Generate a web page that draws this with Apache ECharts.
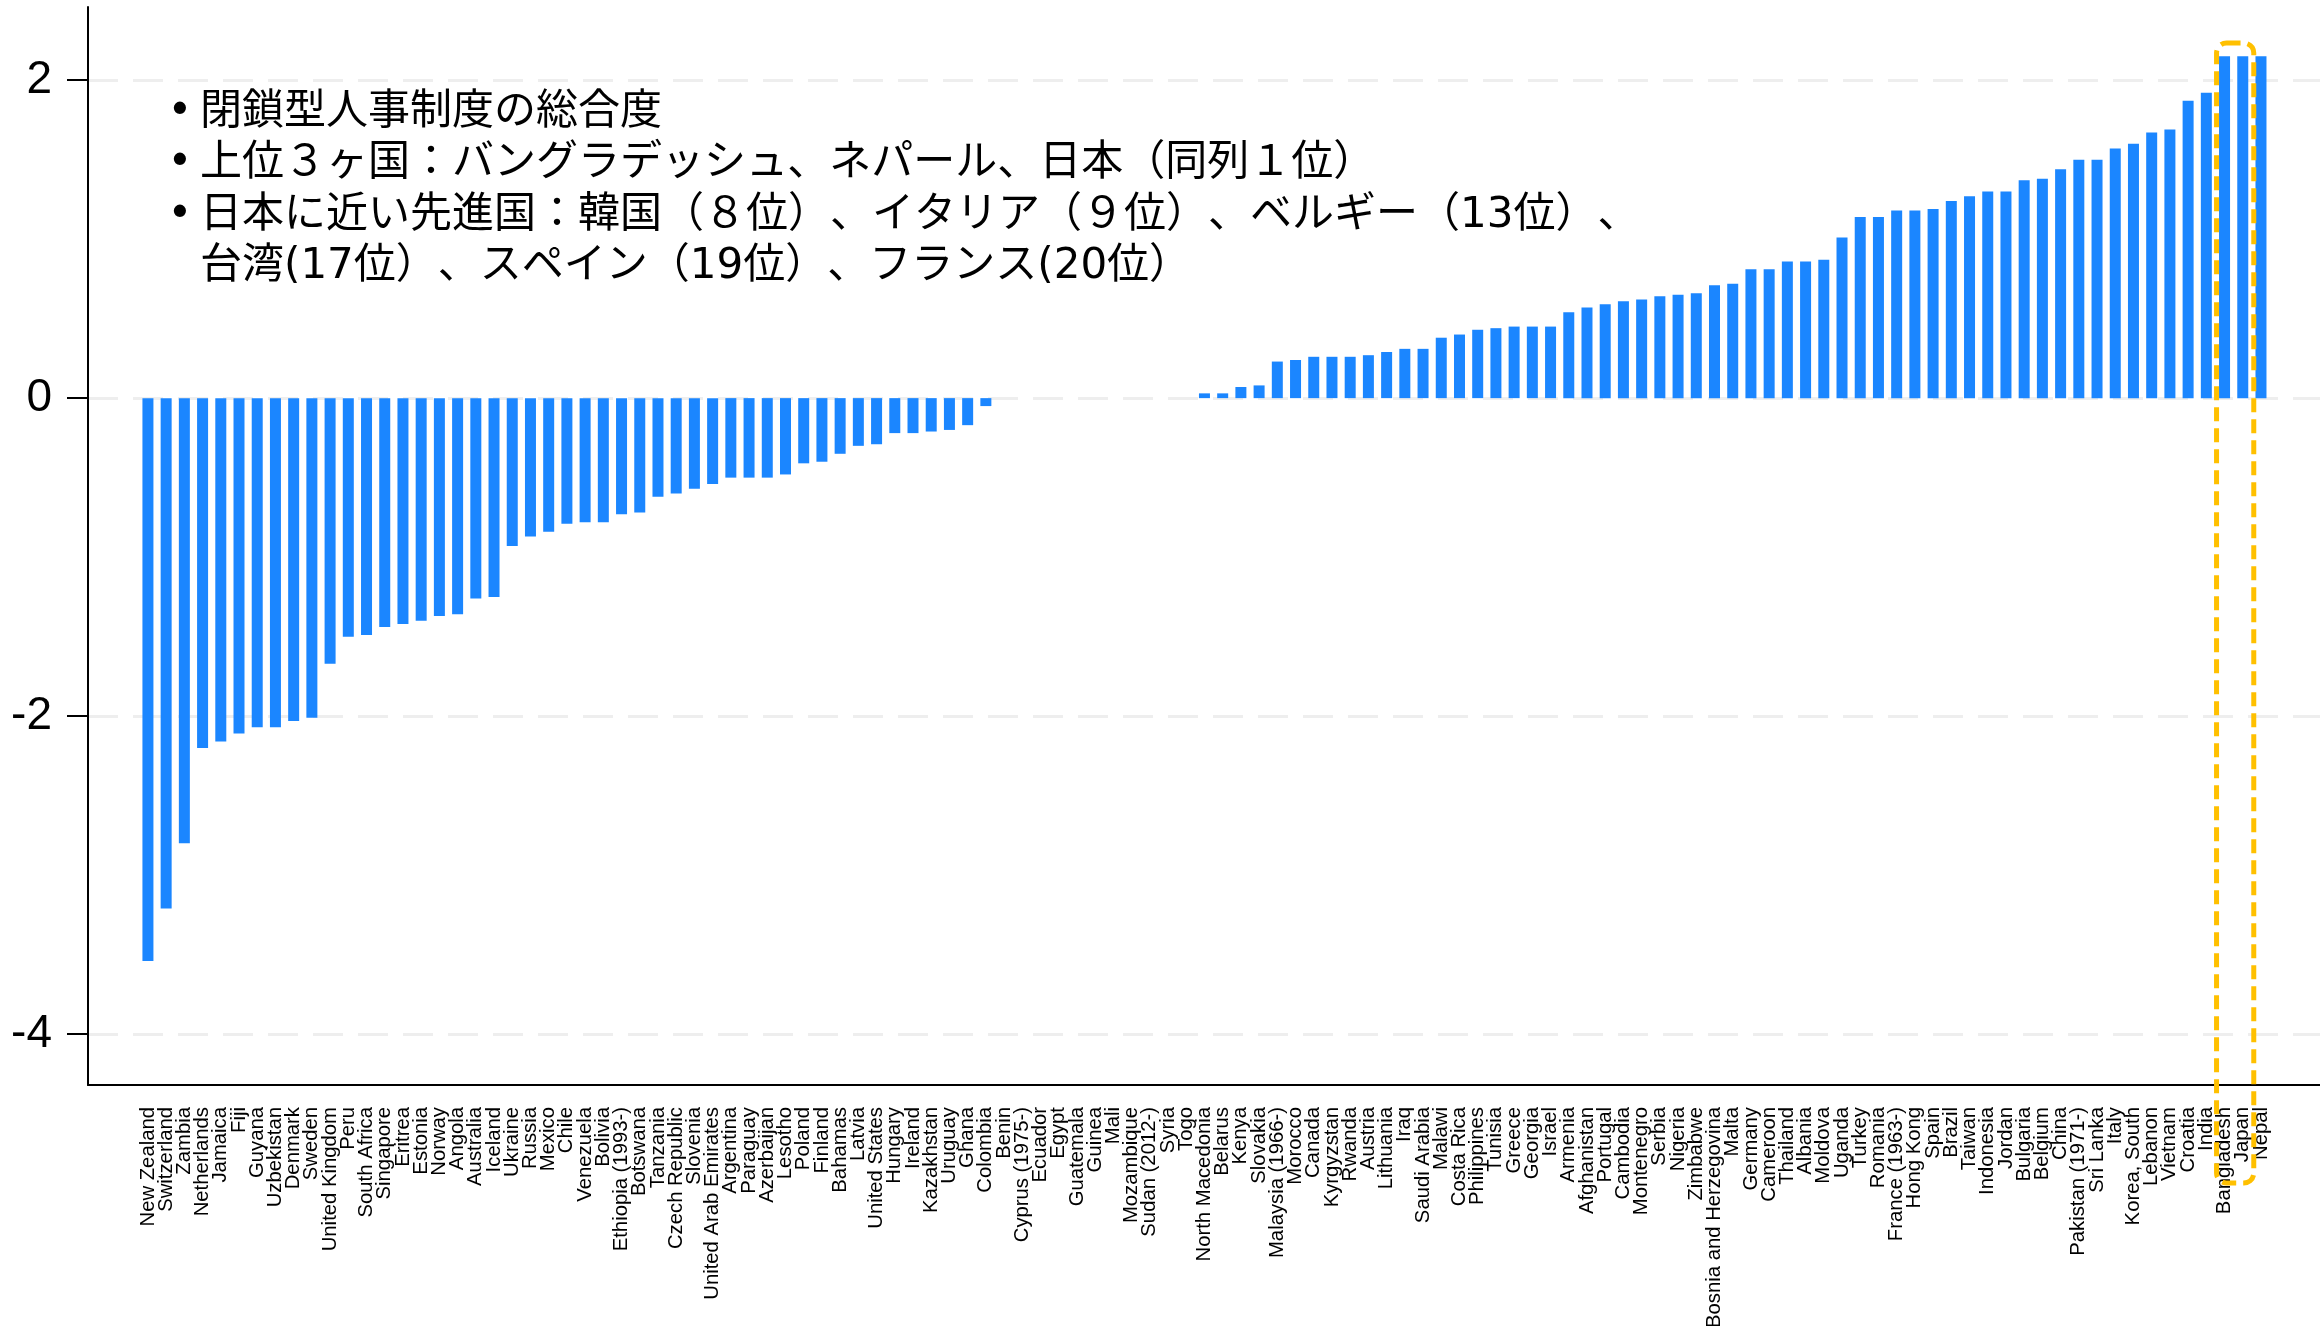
<!DOCTYPE html>
<html>
<head>
<meta charset="utf-8">
<title>閉鎖型人事制度の総合度</title>
<script src="https://cdn.jsdelivr.net/npm/echarts@6/dist/echarts.min.js"></script>
<style>
    html, body { margin: 0; padding: 0; background: #fff; }
    #closedHR { width: 2320px; height: 1326px; }
</style>
</head>
<body>
<div id="closedHR"></div>
<script>
// 国名（スコア昇順）
var countries = ['New Zealand', 'Switzerland', 'Zambia', 'Netherlands', 'Jamaica', 'Fiji', 'Guyana', 'Uzbekistan', 'Denmark', 'Sweden',
    'United Kingdom', 'Peru', 'South Africa', 'Singapore', 'Eritrea', 'Estonia', 'Norway', 'Angola', 'Australia', 'Iceland',
    'Ukraine', 'Russia', 'Mexico', 'Chile', 'Venezuela', 'Bolivia', 'Ethiopia (1993-)', 'Botswana', 'Tanzania', 'Czech Republic',
    'Slovenia', 'United Arab Emirates', 'Argentina', 'Paraguay', 'Azerbaijan', 'Lesotho', 'Poland', 'Finland', 'Bahamas', 'Latvia',
    'United States', 'Hungary', 'Ireland', 'Kazakhstan', 'Uruguay', 'Ghana', 'Colombia', 'Benin', 'Cyprus (1975-)', 'Ecuador',
    'Egypt', 'Guatemala', 'Guinea', 'Mali', 'Mozambique', 'Sudan (2012-)', 'Syria', 'Togo', 'North Macedonia', 'Belarus',
    'Kenya', 'Slovakia', 'Malaysia (1966-)', 'Morocco', 'Canada', 'Kyrgyzstan', 'Rwanda', 'Austria', 'Lithuania', 'Iraq',
    'Saudi Arabia', 'Malawi', 'Costa Rica', 'Philippines', 'Tunisia', 'Greece', 'Georgia', 'Israel', 'Armenia', 'Afghanistan',
    'Portugal', 'Cambodia', 'Montenegro', 'Serbia', 'Nigeria', 'Zimbabwe', 'Bosnia and Herzegovina', 'Malta', 'Germany', 'Cameroon',
    'Thailand', 'Albania', 'Moldova', 'Uganda', 'Turkey', 'Romania', 'France (1963-)', 'Hong Kong', 'Spain', 'Brazil',
    'Taiwan', 'Indonesia', 'Jordan', 'Bulgaria', 'Belgium', 'China', 'Pakistan (1971-)', 'Sri Lanka', 'Italy', 'Korea, South',
    'Lebanon', 'Vietnam', 'Croatia', 'India', 'Bangladesh', 'Japan', 'Nepal'];

// 閉鎖型人事制度の総合度スコア
var scores = [-3.54, -3.21, -2.80, -2.20, -2.16, -2.11, -2.07, -2.07, -2.03, -2.01,
    -1.67, -1.50, -1.49, -1.44, -1.42, -1.40, -1.37, -1.36, -1.26, -1.25,
    -0.93, -0.87, -0.84, -0.79, -0.78, -0.78, -0.73, -0.72, -0.62, -0.60,
    -0.57, -0.54, -0.50, -0.50, -0.50, -0.48, -0.41, -0.40, -0.35, -0.30,
    -0.29, -0.22, -0.22, -0.21, -0.20, -0.17, -0.05, 0, 0, 0,
    0, 0, 0, 0, 0, 0, 0, 0, 0.03, 0.03,
    0.07, 0.08, 0.23, 0.24, 0.26, 0.26, 0.26, 0.27, 0.29, 0.31,
    0.31, 0.38, 0.40, 0.43, 0.44, 0.45, 0.45, 0.45, 0.54, 0.57,
    0.59, 0.61, 0.62, 0.64, 0.65, 0.66, 0.71, 0.72, 0.81, 0.81,
    0.86, 0.86, 0.87, 1.01, 1.14, 1.14, 1.18, 1.18, 1.19, 1.24,
    1.27, 1.30, 1.30, 1.37, 1.38, 1.44, 1.50, 1.50, 1.57, 1.60,
    1.67, 1.69, 1.87, 1.92, 2.15, 2.15, 2.15];

var yTicks = [-4, -2, 0, 2];

var noteBullets = ['•', '•', '•'];
// ）と、の間にゼロ幅スペース（約物の詰めを防ぐ）
var noteLines = [
    '閉鎖型人事制度の総合度',
    '上位３ヶ国：バングラデッシュ、ネパール、日本（同列１位）',
    '日本に近い先進国：韓国（８位）\u200B、イタリア（９位）\u200B、ベルギー（13位）\u200B、',
    '台湾(17位）\u200B、スペイン（19位）\u200B、フランス(20位）'
];

// 囲み枠（バングラデシュ・日本）
var boxFrom = 'Bangladesh';
var boxTo = 'Japan';

function showClosedHRGraph() {
    var myChart = echarts.init(document.getElementById('closedHR'));
    var barData = [];
    // 両端に空ラベルを置いて、端のラベルが間引かれないようにする
    var labelIdx = [-3];
    for (var i = 0; i < countries.length; i++) {
        barData.push([i, scores[i]]);
        labelIdx.push(i);
    }
    labelIdx.push(countries.length + 2);

    var option = {
        animation: false,
        backgroundColor: '#fff',
        grid: { left: 88, right: 0, top: 7, bottom: 241, outerBoundsMode: 'none', containLabel: false },
        xAxis: {
            type: 'value',
            min: -3.29,
            max: 119.24,
            axisLine: { onZero: false, lineStyle: { color: '#000', width: 2 } },
            axisTick: { show: false },
            splitLine: { show: false },
            axisLabel: {
                customValues: labelIdx,
                hideOverlap: false,
                rotate: 90,
                margin: 22,
                color: '#000',
                fontSize: 20.3,
                lineHeight: 14,
                fontFamily: 'Liberation Sans',
                formatter: function (v) { return countries[v] || ''; }
            }
        },
        yAxis: {
            type: 'value',
            min: -4.32,
            max: 2.46,
            axisLine: { show: true, onZero: false, lineStyle: { color: '#000', width: 2 } },
            axisTick: { show: true, customValues: yTicks, length: 21, lineStyle: { color: '#000', width: 2 } },
            axisLabel: {
                customValues: yTicks,
                margin: 36,
                color: '#000',
                fontSize: 46,
                fontFamily: 'Liberation Sans'
            },
            splitLine: {
                show: true,
                lineStyle: { color: '#eeeeee', width: 3, type: [30, 15] }
            }
        },
        series: [{
            type: 'bar',
            barWidth: 11,
            itemStyle: { color: '#1b86ff' },
            data: barData
        }]
    };
    myChart.setOption(option);

    // 注記と枠
    var x0 = myChart.convertToPixel({ xAxisIndex: 0 }, countries.indexOf(boxFrom));
    var x1 = myChart.convertToPixel({ xAxisIndex: 0 }, countries.indexOf(boxTo));
    var noteFont = 'DejaVu Sans, Noto Sans CJK JP';
    myChart.setOption({
        graphic: [
            {
                type: 'text',
                style: {
                    text: noteBullets.join('\n'),
                    x: 180, y: 87,
                    textAlign: 'center',
                    fontSize: 42, lineHeight: 51.5,
                    fontFamily: noteFont,
                    fill: '#000'
                }
            },
            {
                type: 'text',
                style: {
                    text: noteLines.join('\n'),
                    x: 200, y: 87,
                    fontSize: 42, lineHeight: 51.5,
                    fontFamily: noteFont,
                    fill: '#000'
                }
            },
            {
                type: 'rect',
                shape: { x: x0 - 8, y: 43, width: (x1 - x0) + 19, height: 1140, r: 10 },
                style: { fill: 'none', stroke: '#ffc000', lineWidth: 5, lineDash: [14, 7] },
                z: 100
            }
        ]
    });
}

showClosedHRGraph();
</script>
</body>
</html>
